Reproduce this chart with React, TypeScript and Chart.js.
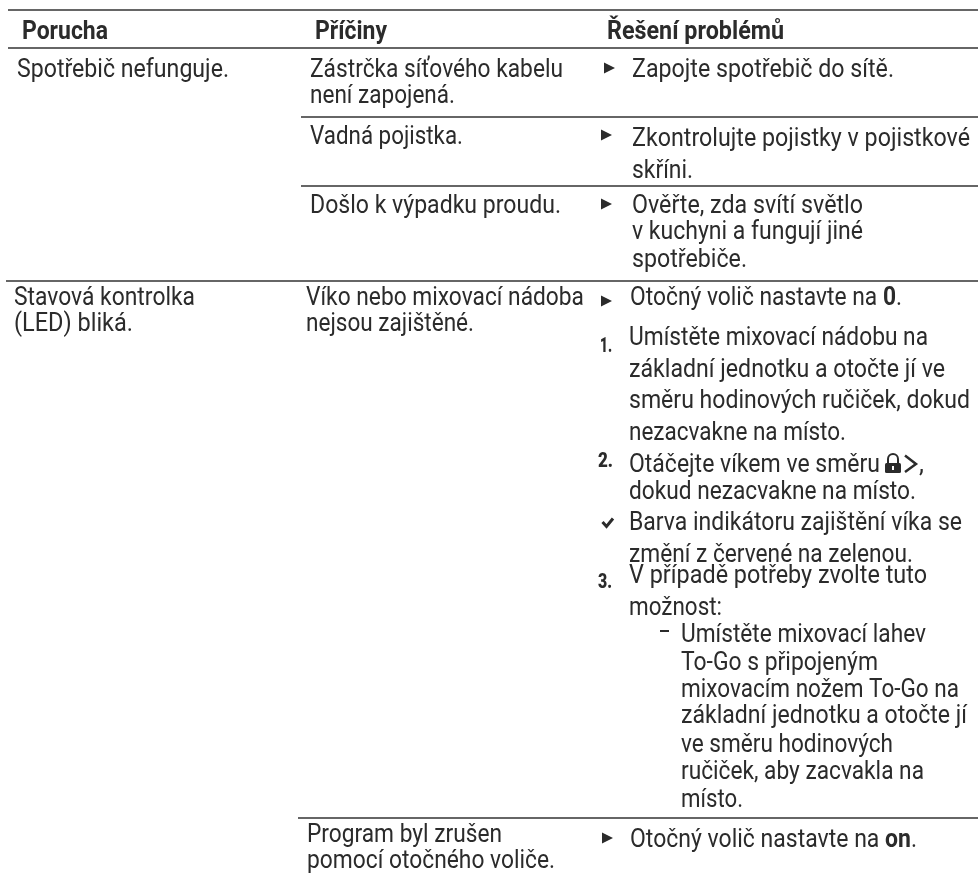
import React, { useEffect, useRef } from "react";
import { Chart, registerables } from "chart.js";

Chart.register(...registerables);

const FONT = '"Roboto", sans-serif';
const INK = "#2b2b2b";

// Table text
const headers = ["Porucha", "Příčiny", "Řešení problémů"];
const faults = ["Spotřebič nefunguje.", "Stavová kontrolka", "(LED) bliká."];
const causes = [
  "Zástrčka síťového kabelu", "není zapojená.", "Vadná pojistka.", "Došlo k výpadku proudu.",
  "Víko nebo mixovací nádoba", "nejsou zajištěné.", "Program byl zrušen", "pomocí otočného voliče.",
];
const remedies = [
  "Zapojte spotřebič do sítě.", "Zkontrolujte pojistky v pojistkové", "skříni.",
  "Ověřte, zda svítí světlo", "v kuchyni a fungují jiné", "spotřebiče.",
  "Umístěte mixovací nádobu na", "základní jednotku a otočte jí ve", "směru hodinových ručiček, dokud",
  "nezacvakne na místo.", "Otáčejte víkem ve směru", "dokud nezacvakne na místo.",
  "Barva indikátoru zajištění víka se", "změní z červené na zelenou.",
  "V případě potřeby zvolte tuto", "možnost:", "Umístěte mixovací lahev", "To-Go s připojeným",
  "mixovacím nožem To-Go na", "základní jednotku a otočte jí", "ve směru hodinových",
  "ručiček, aby zacvakla na", "místo.",
];
const stepNumbers = ["1.", "2.", "3."];

// Layout in page pixels: [x, baseline, right edge]
const headerPos = [[22, 39, 108], [315, 39, 387], [607, 39, 784]];
const faultPos = [[17, 77, 229], [14, 305, 195], [14, 331, 133]];
const causePos = [
  [310, 77, 563], [310, 103, 455], [310, 144, 463], [310, 213, 561],
  [306, 305, 584], [306, 331, 474], [307, 842, 502], [307, 868, 555],
];
const remedyPos = [
  [632, 77, 894], [632, 146, 970], [632, 178, 693], [632, 213, 863], [632, 239, 863], [632, 267, 747],
  [629, 345, 928], [629, 377, 945], [629, 408, 970], [629, 440, 846], [629, 472, 880], [629, 499, 916],
  [629, 530, 962], [629, 562, 913], [629, 583, 927], [629, 615, 722], [681, 642, 926], [681, 670, 878],
  [681, 697, 959], [681, 723, 967], [681, 752, 893], [681, 779, 924], [681, 807, 743],
];
const stepPos = [[600, 352, 612], [598, 467, 613], [598, 588, 612]];
const mixedPos = [
  { x: 630, y: 305, right: 902, a: "Otočný volič nastavte na ", b: "0", c: "." },
  { x: 630, y: 847, right: 917, a: "Otočný volič nastavte na ", b: "on", c: "." },
];
const arrowPos = [[604, 68], [601, 135], [601, 204], [601, 301], [602, 838]];

// Table rules: [y, x from, x to]
const rules = [
  [10, 8, 978], [48, 8, 978], [117, 301, 978], [186, 301, 978], [281, 6, 978], [818, 298, 978],
];

const tablePlugin = {
  id: "tableText",
  afterDraw(chart: any) {
    const { ctx, scales } = chart;
    const X = (v: number) => scales.x.getPixelForValue(v);
    const Y = (v: number) => scales.y.getPixelForValue(v);
    const fitted = (t: string, p: number[], font: string) => {
      ctx.font = font;
      const w = ctx.measureText(t).width;
      ctx.save();
      ctx.translate(X(p[0]), Y(p[1]));
      ctx.scale((X(p[2]) - X(p[0])) / w, 1);
      ctx.fillText(t, 0, 0);
      ctx.restore();
    };
    ctx.save();
    ctx.fillStyle = INK;
    ctx.textBaseline = "alphabetic";
    const body = `25px ${FONT}`;
    headers.forEach((t, i) => fitted(t, headerPos[i], `bold 25px ${FONT}`));
    faults.forEach((t, i) => fitted(t, faultPos[i], body));
    causes.forEach((t, i) => fitted(t, causePos[i], body));
    remedies.forEach((t, i) => fitted(t, remedyPos[i], body));
    mixedPos.forEach((m) => {
      ctx.font = body;
      const wa = ctx.measureText(m.a).width;
      const wc = ctx.measureText(m.c).width;
      ctx.font = `bold 25px ${FONT}`;
      const wb = ctx.measureText(m.b).width;
      const sx = (X(m.right) - X(m.x)) / (wa + wb + wc);
      ctx.save();
      ctx.translate(X(m.x), Y(m.y));
      ctx.scale(sx, 1);
      ctx.font = body;
      ctx.fillText(m.a, 0, 0);
      ctx.font = `bold 25px ${FONT}`;
      ctx.fillText(m.b, wa, 0);
      ctx.font = body;
      ctx.fillText(m.c, wa + wb, 0);
      ctx.restore();
    });
    stepNumbers.forEach((t, i) => fitted(t, stepPos[i], `900 21px ${FONT}`));

    // bullets
    arrowPos.forEach(([x, y]) => {
      ctx.beginPath();
      ctx.moveTo(X(x), Y(y - 5.5));
      ctx.lineTo(X(x + 11), Y(y));
      ctx.lineTo(X(x), Y(y + 5.5));
      ctx.closePath();
      ctx.fill();
    });
    // check mark
    ctx.strokeStyle = INK;
    ctx.lineWidth = 3;
    ctx.beginPath();
    ctx.moveTo(X(602.5), Y(522));
    ctx.lineTo(X(606.5), Y(526.5));
    ctx.lineTo(X(613), Y(518.5));
    ctx.stroke();
    // dash
    ctx.lineWidth = 2;
    ctx.beginPath();
    ctx.moveTo(X(660), Y(631));
    ctx.lineTo(X(669), Y(631));
    ctx.stroke();
    // lock icon
    ctx.beginPath();
    ctx.roundRect(X(885), Y(463), 16, 10, 1.5);
    ctx.fill();
    ctx.lineWidth = 2;
    ctx.beginPath();
    ctx.arc(X(893), Y(459), 5, Math.PI, 0);
    ctx.moveTo(X(888), Y(459));
    ctx.lineTo(X(888), Y(463));
    ctx.moveTo(X(898), Y(459));
    ctx.lineTo(X(898), Y(463));
    ctx.stroke();
    ctx.fillStyle = "#fff";
    ctx.fillRect(X(892), Y(466), 2, 4);
    // chevron
    ctx.lineWidth = 2.5;
    ctx.beginPath();
    ctx.moveTo(X(905), Y(455.5));
    ctx.lineTo(X(916), Y(464));
    ctx.lineTo(X(905), Y(472));
    ctx.stroke();
    // comma
    ctx.fillStyle = INK;
    ctx.font = body;
    ctx.fillText(",", X(919), Y(472));
    ctx.restore();
  },
};

export default function App() {
  const ref = useRef<HTMLCanvasElement>(null);
  useEffect(() => {
    const chart = new Chart(ref.current!, {
      type: "scatter",
      data: {
        datasets: rules.map(([y, x0, x1]) => ({
          type: "line" as const,
          data: [{ x: x0, y }, { x: x1, y }],
          borderColor: "#333333",
          borderWidth: 1.6,
          pointRadius: 0,
          fill: false,
        })),
      },
      options: {
        animation: false,
        responsive: false,
        layout: { padding: 0 },
        plugins: { legend: { display: false }, tooltip: { enabled: false }, title: { display: false } },
        scales: {
          x: { type: "linear", min: 0, max: 978, display: false },
          y: { type: "linear", min: 0, max: 877, reverse: true, display: false },
        },
      },
      plugins: [tablePlugin],
    });
    return () => chart.destroy();
  }, []);
  return (
    <div style={{ position: "fixed", left: 0, top: 0, width: 978, height: 877, background: "#fff" }}>
      <canvas ref={ref} width={978} height={877} style={{ display: "block" }} />
    </div>
  );
}
